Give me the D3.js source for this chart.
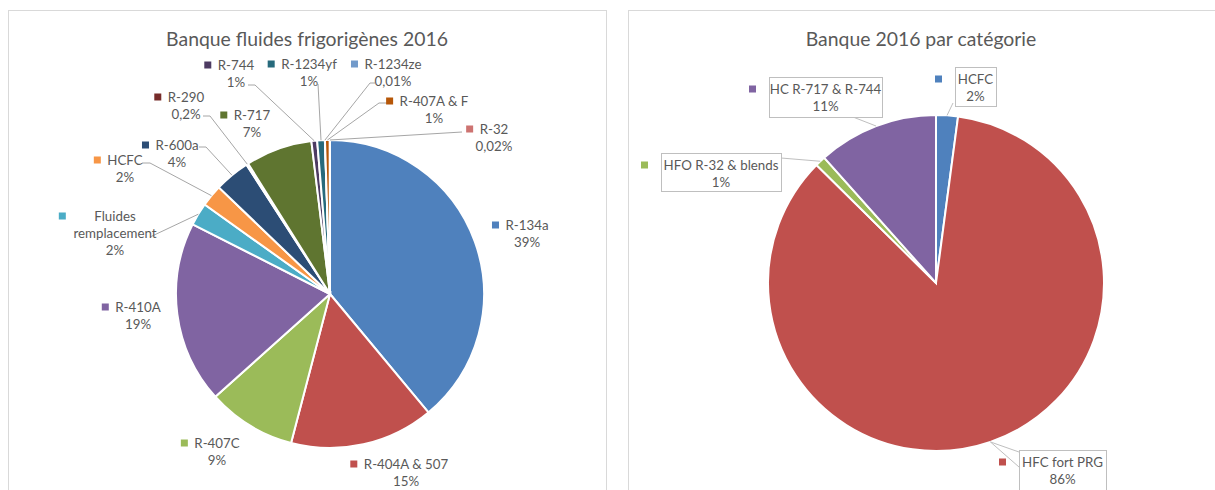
<!DOCTYPE html>
<html>
<head>
<meta charset="utf-8">
<script src="https://cdnjs.cloudflare.com/ajax/libs/d3/7.8.5/d3.min.js"></script>
<style>
  body { margin: 0; background: #fff; }
  text { font-family: Lato, "Open Sans", sans-serif; fill: #595959; }
</style>
</head>
<body>
<div id="wrapper"></div>
<script>
// left chart : refrigerant bank 2016
const leftNames = ["R-134a", "R-404A & 507", "R-407C", "R-410A", "Fluides\nremplacement", "HCFC", "R-600a",
    "R-290", "R-717", "R-744", "R-1234yf", "R-1234ze", "R-407A & F", "R-32"];
const leftValues = [38.97, 15.1, 9.3, 19.1, 2.4, 2.3, 3.7, 0.2, 7.0, 0.6, 0.8, 0.01, 0.5, 0.02];
const leftPct = ["39%", "15%", "9%", "19%", "2%", "2%", "4%", "0,2%", "7%", "1%", "1%", "0,01%", "1%", "0,02%"];
const leftColors = ["#4F81BD", "#C0504D", "#9BBB59", "#8064A2", "#4BACC6", "#F79646", "#2C4D75",
    "#772C2A", "#5F7530", "#4D3B62", "#276A7C", "#729ACA", "#B65708", "#CD7371"];

// right chart : by category
const rightNames = ["HCFC", "HFC fort PRG", "HFO R-32 & blends", "HC R-717 & R-744"];
const rightValues = [2.1, 85.3, 1.0, 11.6];
const rightPct = ["2%", "86%", "1%", "11%"];
const rightColors = ["#4F81BD", "#C0504D", "#9BBB59", "#8064A2"];

// label layout (centre of the first text line), leader line start / elbow
const leftLabelPos = [[527, 225], [406, 464], [217, 443], [138, 307], [115, 216], [125, 160], [177, 145],
    [186, 97], [252, 115], [236, 65], [309, 64], [393, 64], [434, 101], [494, 129]];
const leftLeader = [null, null, null, null, [[150, 237]], [[142, 163], [150, 163]], [[199, 147], [206, 147]],
    [[203, 116], [210, 116]], null, [[248, 85], [255, 85]], [[318, 84]], [[375, 83], [370, 83]],
    [[388, 103], [379, 103]], [[462, 132]]];
const rightBox = [[955, 67, 996, 106], [1019, 450, 1106, 500], [661, 153, 781, 191], [769, 77, 882, 117]];
const rightLeader = [[[953, 103]], [[1019, 452], [1019, 467]], [[781, 158]], [[853, 117]]];

const W = 1215, H = 490;
const lineH = 17;

const svg = d3.select("#wrapper").append("svg")
    .attr("width", W)
    .attr("height", H);

// panels
svg.append("rect").attr("x", 8.5).attr("y", 10.5).attr("width", 598).attr("height", 500)
    .attr("fill", "#fff").attr("stroke", "#D9D9D9");
svg.append("rect").attr("x", 628.5).attr("y", 10.5).attr("width", 620).attr("height", 500)
    .attr("fill", "#fff").attr("stroke", "#D9D9D9");

svg.append("text").attr("x", 307).attr("y", 38).attr("text-anchor", "middle")
    .attr("dominant-baseline", "central").style("font-size", "19.4px")
    .text("Banque fluides frigorigènes 2016");
svg.append("text").attr("x", 921).attr("y", 38).attr("text-anchor", "middle")
    .attr("dominant-baseline", "central").style("font-size", "19.4px")
    .text("Banque 2016 par catégorie");

function drawPie(cx, cy, r, values, colors) {
    const pie = d3.pie().sort(null).value(d => d);
    const arcs = pie(values);
    const arc = d3.arc().innerRadius(0).outerRadius(r);
    const g = svg.append("g").attr("transform", `translate(${cx},${cy})`);
    g.selectAll("path")
        .data(arcs)
        .join("path")
        .attr("d", arc)
        .attr("fill", (d, i) => colors[i])
        .attr("stroke", "#fff")
        .attr("stroke-width", 2);
    // point on rim at mid angle
    return arcs.map(a => {
        const m = (a.startAngle + a.endAngle) / 2;
        return [cx + r * Math.sin(m), cy - r * Math.cos(m)];
    });
}

function drawLabel(pos, name, pct, color) {
    const lines = name.split("\n").concat([pct]);
    const g = svg.append("g");
    let first = null;
    lines.forEach((t, k) => {
        const tx = g.append("text")
            .attr("x", pos[0]).attr("y", pos[1] + k * lineH)
            .attr("text-anchor", "middle")
            .attr("dominant-baseline", "central")
            .style("font-size", "13.3px")
            .text(t);
        if (k === 0) first = tx;
    });
    const w = first.node().getComputedTextLength();
    const mx = pos[0] - w / 2 - (lines.length > 2 ? 32 : 10);
    g.append("rect").attr("x", mx - 3.5).attr("y", pos[1] - 3.5).attr("width", 7).attr("height", 7)
        .attr("fill", color);
}

// left pie
const leftRim = drawPie(330, 294, 154, leftValues, leftColors);
leftNames.forEach((n, i) => {
    if (leftLeader[i]) {
        const pts = leftLeader[i].concat([leftRim[i]]);
        svg.append("path").attr("d", d3.line()(pts))
            .attr("fill", "none").attr("stroke", "#A6A6A6").attr("stroke-width", 1);
    }
});
leftNames.forEach((n, i) => drawLabel(leftLabelPos[i], n, leftPct[i], leftColors[i]));

// right pie
const rightRim = drawPie(936, 283, 168, rightValues, rightColors);
rightNames.forEach((n, i) => {
    const b = rightBox[i];
    const pts = rightLeader[i];
    if (pts.length === 2) {
        svg.append("path").attr("d", d3.line()([pts[0], rightRim[i], pts[1]]))
            .attr("fill", "#fff").attr("stroke", "#BFBFBF").attr("stroke-width", 1);
    } else {
        svg.append("path").attr("d", d3.line()([pts[0], rightRim[i]]))
            .attr("fill", "none").attr("stroke", "#BFBFBF").attr("stroke-width", 1);
    }
    svg.append("rect").attr("x", b[0] + 0.5).attr("y", b[1] + 0.5)
        .attr("width", b[2] - b[0]).attr("height", b[3] - b[1])
        .attr("fill", "#fff").attr("stroke", "#BFBFBF");
    const cxL = (b[0] + b[2]) / 2;
    const cyL = b[1] + 12;
    svg.append("text").attr("x", cxL).attr("y", cyL).attr("text-anchor", "middle")
        .attr("dominant-baseline", "central").style("font-size", "13.3px").text(n);
    svg.append("text").attr("x", cxL).attr("y", cyL + lineH).attr("text-anchor", "middle")
        .attr("dominant-baseline", "central").style("font-size", "13.3px").text(rightPct[i]);
    svg.append("rect").attr("x", b[0] - 20).attr("y", cyL - 3.5).attr("width", 7).attr("height", 7)
        .attr("fill", rightColors[i]);
});
</script>
</body>
</html>
